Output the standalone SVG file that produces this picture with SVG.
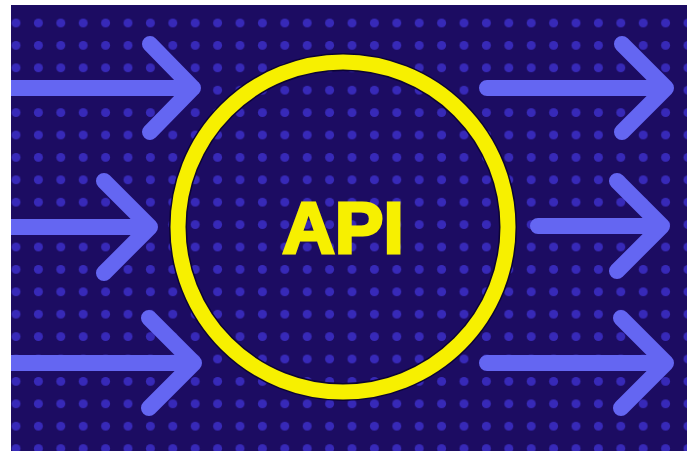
<svg xmlns="http://www.w3.org/2000/svg" width="687" height="451" viewBox="0 0 687 451">
  <style>
    .arrow { fill: none; stroke: #6466f2; stroke-width: 16; stroke-linecap: round; stroke-linejoin: round; }
    .ring-edge { fill: none; stroke: #0c0433; stroke-width: 18; }
    .ring { fill: none; stroke: #f7f000; stroke-width: 15; }
    .label { font-family: "Liberation Sans", Arial, sans-serif; font-weight: 700; font-size: 73px; fill: #f7f000; stroke: #f7f000; stroke-width: 3; stroke-linejoin: miter; text-anchor: middle; }
  </style>
  <defs>
    <clipPath id="panel">
      <rect x="11" y="5" width="676" height="446"/>
    </clipPath>
    <pattern id="dots" patternUnits="userSpaceOnUse" x="4.8" y="11.8" width="22.4" height="22.4">
      <circle cx="11.2" cy="11.2" r="4.5" fill="#3729b8"/>
    </pattern>
  </defs>
  <rect x="0" y="0" width="687" height="451" fill="#ffffff"/>
  <rect id="background" x="11" y="5" width="676" height="446" fill="#1c0c62"/>
  <rect x="11" y="5" width="676" height="446" fill="url(#dots)"/>
  <g id="connectors" clip-path="url(#panel)">
    <path class="arrow" d="M0,88 H193 M150,44 L193,88 L150,132"/>
    <path class="arrow" d="M0,227 H150 M104,181 L150,227 L104,273"/>
    <path class="arrow" d="M0,363 H194 M149,318 L194,363 L149,408"/>
    <path class="arrow" d="M487,88 H666 M622,44 L666,88 L622,132"/>
    <path class="arrow" d="M538,226 H662 M617,181 L662,226 L617,271"/>
    <path class="arrow" d="M487,363 H666 M621,318 L666,363 L621,408"/>
  </g>
  <g id="api">
    <circle class="ring-edge" cx="343" cy="227" r="165"/>
    <circle class="ring" cx="343" cy="227" r="165"/>
    <text class="label" x="343" y="253">API</text>
  </g>
</svg>
